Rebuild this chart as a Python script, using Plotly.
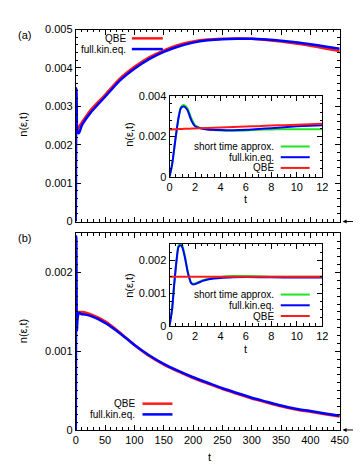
import plotly.graph_objects as go

# ---- data ----
# short-time window, panel (a)
T_SHORT_A = [0, 0.2, 0.45, 0.7, 0.9, 1.13, 1.4, 1.7, 2.0, 2.5, 3, 4, 5, 6, 7, 8, 9, 10, 11, 12]
SHORT_A_GREEN = [0, 0.0006, 0.0018, 0.0029, 0.00345, 0.00355, 0.0034, 0.0029, 0.00255, 0.0024,
                 0.00233, 0.00228, 0.00227, 0.00229, 0.00232, 0.00234, 0.00235, 0.00235, 0.00235, 0.00235]
SHORT_A_BLUE = [0, 0.0006, 0.0018, 0.0029, 0.0034, 0.00347, 0.0033, 0.0028, 0.0025, 0.00238,
                0.00234, 0.00231, 0.0023, 0.00232, 0.00236, 0.0024, 0.00245, 0.00249, 0.00252, 0.00255]
SHORT_A_RED = [0.00234, 0.00234, 0.00235, 0.00236, 0.00236, 0.00237, 0.00237, 0.00238, 0.00239, 0.0024,
               0.00241, 0.00243, 0.00246, 0.00248, 0.0025, 0.00253, 0.00255, 0.00257, 0.0026, 0.00262]

# short-time window, panel (b)
T_SHORT_B = [0, 0.2, 0.35, 0.55, 0.7, 0.85, 1.0, 1.2, 1.45, 1.7, 1.9, 2.2, 2.6, 3.0, 3.5, 4, 5, 6, 8, 10, 12]
SHORT_B_GREEN = [0, 0.0005, 0.0012, 0.002, 0.00245, 0.00252, 0.00245, 0.00213, 0.00162, 0.00131, 0.00128,
                 0.00132, 0.00139, 0.00143, 0.00146, 0.00149, 0.00152, 0.00152, 0.0015, 0.0015, 0.0015]
SHORT_B_BLUE = [0, 0.0005, 0.0012, 0.002, 0.0024, 0.00246, 0.0024, 0.0021, 0.0016, 0.0013, 0.00126,
                0.0013, 0.00137, 0.00141, 0.00144, 0.00146, 0.00148, 0.00149, 0.00148, 0.00147, 0.00147]
SHORT_B_RED = [0.0015, 0.0015, 0.0015, 0.0015, 0.0015, 0.0015, 0.0015, 0.0015, 0.0015, 0.0015, 0.0015,
               0.0015, 0.0015, 0.0015, 0.0015, 0.0015, 0.0015, 0.0015, 0.0015, 0.0015, 0.0015]

# long-time part (t > 12)
T_LONG = [25, 50, 75, 100, 125, 150, 175, 200, 225, 250, 275, 300, 325, 350, 375, 400, 425, 450]
LONG_A_RED = [0.0029, 0.0033, 0.00372, 0.00403, 0.00428, 0.00446, 0.0046, 0.00469, 0.00474,
              0.00476, 0.00477, 0.00476, 0.00473, 0.00469, 0.00464, 0.00458, 0.00451, 0.00444]
LONG_A_BLUE = [0.00283, 0.00325, 0.00367, 0.00398, 0.00423, 0.00442, 0.00456, 0.00466, 0.00472,
               0.00475, 0.00476, 0.00476, 0.00474, 0.00471, 0.00467, 0.00462, 0.00456, 0.0045]
LONG_B_RED = [0.00147, 0.00138, 0.00124, 0.00108, 0.00094, 0.00083, 0.00074, 0.00066, 0.00059,
              0.00052, 0.00046, 0.0004, 0.00035, 0.0003, 0.00026, 0.00023, 0.0002, 0.00017]
LONG_B_BLUE = [0.00145, 0.00136, 0.00123, 0.00108, 0.00095, 0.00084, 0.00075, 0.00067, 0.0006,
               0.00053, 0.00047, 0.00041, 0.00036, 0.00031, 0.00027, 0.00024, 0.00021, 0.00018]

MAIN_LABELS = ["QBE", "full.kin.eq."]
INSET_LABELS = ["short time approx.", "full.kin.eq.", "QBE"]

RED = "#ff1a1a"
BLUE = "#0000ff"
GREEN = "#1ee61e"
FONT = "Liberation Sans"

W, H = 361, 465


def px(x):
    return x / W


def py(y):
    return 1 - y / H


def axis(domain, rng, dtick, minor, **kw):
    style = dict(
        domain=domain,
        range=rng,
        dtick=dtick,
        tick0=0,
        showline=True,
        linecolor="black",
        linewidth=1,
        mirror="allticks",
        ticks="inside",
        ticklen=5,
        tickwidth=1,
        tickcolor="black",
        minor=dict(dtick=minor, tick0=0, ticks="inside", ticklen=2.5, tickcolor="black", showgrid=False),
        showgrid=False,
        zeroline=False,
        tickfont=dict(family=FONT, size=11, color="black"),
    )
    style.update(kw)
    return style


def line(x, y, color, width, xa, ya):
    return go.Scatter(x=x, y=y, mode="lines", line=dict(color=color, width=width, shape="spline", smoothing=0.6),
                      xaxis=xa, yaxis=ya, showlegend=False, hoverinfo="skip")


fig = go.Figure()

# main (a)
fig.add_trace(line(T_SHORT_A + T_LONG, SHORT_A_RED + LONG_A_RED, RED, 2.5, "x", "y"))
fig.add_trace(line(T_SHORT_A + T_LONG, SHORT_A_BLUE + LONG_A_BLUE, BLUE, 2.5, "x", "y"))
# main (b)
fig.add_trace(line(T_SHORT_B + T_LONG, SHORT_B_RED + LONG_B_RED, RED, 2.5, "x2", "y2"))
fig.add_trace(line(T_SHORT_B + T_LONG, SHORT_B_BLUE + LONG_B_BLUE, BLUE, 2.5, "x2", "y2"))
# inset (a)
fig.add_trace(line(T_SHORT_A, SHORT_A_GREEN, GREEN, 2, "x3", "y3"))
fig.add_trace(line(T_SHORT_A, SHORT_A_BLUE, BLUE, 2, "x3", "y3"))
fig.add_trace(line(T_SHORT_A, SHORT_A_RED, RED, 2, "x3", "y3"))
# inset (b)
fig.add_trace(line(T_SHORT_B, SHORT_B_GREEN, GREEN, 2, "x4", "y4"))
fig.add_trace(line(T_SHORT_B, SHORT_B_BLUE, BLUE, 2, "x4", "y4"))
fig.add_trace(line(T_SHORT_B, SHORT_B_RED, RED, 2, "x4", "y4"))

main_x = [px(67), px(340)]
inset_x = [px(164), px(322)]

fig.update_layout(
    width=W,
    height=H,
    margin=dict(l=0, r=0, t=0, b=0),
    paper_bgcolor="white",
    plot_bgcolor="white",
    font=dict(family=FONT, size=11, color="black"),
    xaxis=axis(main_x, [0, 450], 50, 10, anchor="y", showticklabels=False),
    yaxis=axis([py(213), py(16)], [0, 0.005], 0.001, 0.0002, anchor="x"),
    xaxis2=axis(main_x, [0, 450], 50, 10, anchor="y2"),
    yaxis2=axis([py(427), py(225)], [0, 0.0025], 0.001, 0.0001, anchor="x2"),
    xaxis3=axis(inset_x, [0, 12], 2, 0.5, anchor="y3"),
    yaxis3=axis([py(167), py(84)], [0, 0.004], 0.002, 0.0004, anchor="x3"),
    xaxis4=axis(inset_x, [0, 12], 2, 0.5, anchor="y4"),
    yaxis4=axis([py(320), py(236)], [0, 0.0025], 0.001, 0.00025, anchor="x4"),
)

annotations = []
shapes = []


def text(x, y, s, angle=0, anchor="center", size=11):
    annotations.append(dict(x=px(x), y=py(y), xref="paper", yref="paper", text=s, showarrow=False,
                            textangle=angle, xanchor=anchor, yanchor="middle", borderpad=0,
                            font=dict(family=FONT, size=size, color="black")))


def legend(labels, colors, x_right, ys, x0, x1, width):
    for lab, col, y in zip(labels, colors, ys):
        text(x_right, y, lab, anchor="right", size=10)
        shapes.append(dict(type="line", xref="paper", yref="paper", x0=px(x0), x1=px(x1),
                           y0=py(y), y1=py(y), line=dict(color=col, width=width)))


# panel labels and axis titles
text(14, 22, "(a)")
text(14, 230, "(b)")
text(12, 114, "n(ε,t)", angle=-90)
text(12, 326, "n(ε,t)", angle=-90)
text(122, 124, "n(ε,t)", angle=-90)
text(122, 279, "n(ε,t)", angle=-90)
text(243, 190, "t")
text(243, 344, "t")
text(205, 455, "t")

legend(MAIN_LABELS, [RED, BLUE], 120, [25, 36], 125, 157, 2.5)
legend(MAIN_LABELS, [RED, BLUE], 129, [400, 411], 136, 167, 2.5)
legend(INSET_LABELS, [GREEN, BLUE, RED], 273, [136, 147, 158], 279, 309, 2)
legend(INSET_LABELS, [GREEN, BLUE, RED], 273, [288, 299, 310], 279, 309, 2)

# small arrows marking the zero level on the right
for y in [213, 427]:
    annotations.append(dict(x=px(343), y=py(y), xref="paper", yref="paper", text="", showarrow=True,
                            ax=13, ay=0, arrowhead=2, arrowsize=0.8, arrowwidth=1, arrowcolor="black"))

fig.update_layout(annotations=annotations, shapes=shapes)

fig.write_html("out.html")
